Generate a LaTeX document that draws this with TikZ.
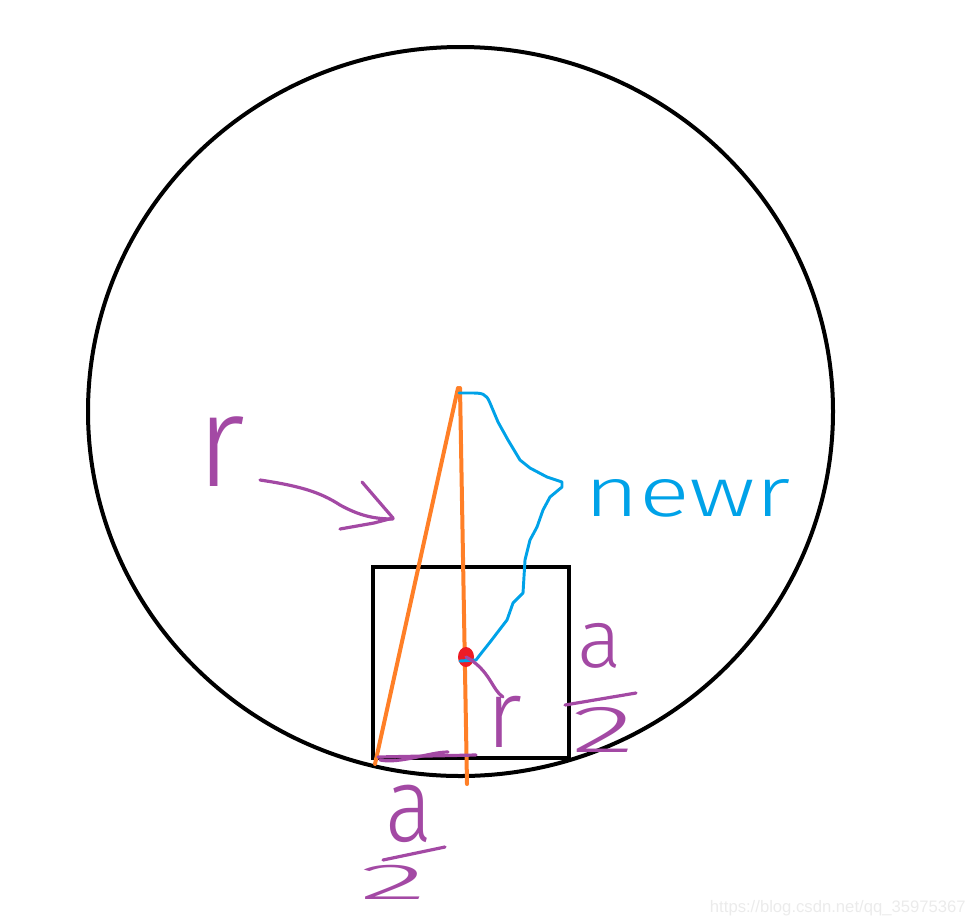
\documentclass[tikz,border=0pt]{standalone}
\usepackage{fontspec}
\newfontfamily\wmfont{Liberation Sans}
\newfontfamily\hand{Fira Sans Light}
\definecolor{penpurple}{HTML}{A349A4}
\definecolor{penorange}{HTML}{FF7F27}
\definecolor{penblue}{HTML}{00A2E8}
\definecolor{penred}{HTML}{ED1C24}
\tikzset{
  shape line/.style={draw=black,line width=3pt},
  orange pen/.style={draw=penorange,line width=3pt,line cap=round},
  blue pen/.style={draw=penblue,line width=2.2pt,line cap=round,line join=round},
  purple pen/.style={draw=penpurple,line width=2.4pt,line cap=round,line join=round},
  purple text/.style={text=penpurple,inner sep=0pt,text depth=0pt},
}
\begin{document}
\begin{tikzpicture}[x=0.75pt,y=-0.75pt]
\useasboundingbox (0,0) rectangle (974,922);
% big circle
\draw[shape line] (460.5,411.5) ellipse [x radius=372.5, y radius=364.5];
% square
\draw[shape line,line width=3.3pt] (373,567) rectangle (569,758);
% orange lines
\coordinate (apex) at (458,388);
\coordinate (corner) at (375,764);
\coordinate (foot) at (467,784);
\draw[orange pen] (apex) -- (corner);
\draw[orange pen] (460,388) -- (foot);
% red centre dot
\coordinate (centre) at (466,657);
\fill[penred] (centre) ellipse [x radius=8, y radius=10];
% blue "new r" curve
\draw[blue pen] (460,661) -- (476,660) .. controls (482,652) and (488,645) .. (497,633)
  -- (507,620) -- (513,603) -- (523,593) -- (525,560) -- (530,540) -- (537,527)
  -- (543,510) -- (550,497) -- (562,487) -- (562,482) -- (547,477) -- (530,468)
  -- (520,460) -- (508,440) -- (498,422) -- (490,403) .. controls (486,393) and (482,393) .. (470,393) -- (459,393);
\node[text=penblue,inner sep=0pt,text depth=0pt,font=\hand\fontsize{52}{52}\selectfont,anchor=base west,xscale=1.36] (newr) at (584,516) {newr};
% left "r" and arrow
\node[purple text,font=\hand\fontsize{98}{98}\selectfont,anchor=base] (rlabel) at (221,486) {r};
\coordinate (arrtail) at (260,480);
\coordinate (arrtip) at (393,519);
\draw[purple pen] (arrtail) .. controls (300,486) and (320,492) .. (340,505)
  .. controls (360,516) and (375,519) .. (arrtip);
\draw[purple pen] (362,482) -- (393,518) -- (374,523) -- (340,529);
% inner r
\draw[purple pen] (centre) .. controls (490,670) and (492,690) .. (503,697);
\node[purple text,font=\hand\fontsize{72}{72}\selectfont,anchor=base] (rinner) at (504,747) {r};
% half side marker at bottom
\coordinate (hl) at (378,757);
\coordinate (hr) at (476,755);
\draw[purple pen] (hl) -- (hr);
\draw[purple pen] (380,760) .. controls (400,764) and (430,752) .. (448,752);
% right a/2
\node[purple text,font=\hand\fontsize{62}{62}\selectfont,anchor=base] (aright) at (600,667) {a};
\coordinate (barr1) at (565,705);
\coordinate (barr2) at (636,693);
\draw[purple pen] (barr1) -- (barr2);
\node[purple text,font=\hand\fontsize{50}{50}\selectfont,anchor=base,xscale=2.0] (tworight) at (603,752) {2};
% bottom a/2
\node[purple text,font=\hand\fontsize{66}{66}\selectfont,anchor=base,yscale=1.2] (abottom) at (409,841) {a};
\coordinate (barb1) at (383,860);
\coordinate (barb2) at (445,847);
\draw[purple pen] (barb1) -- (barb2);
\node[purple text,font=\hand\fontsize{38}{38}\selectfont,anchor=base,xscale=2.8] (twobottom) at (393,899) {2};
% watermark
\node[text=black!8,inner sep=0pt,font=\wmfont\fontsize{12.5}{12.5}\selectfont,anchor=base east] (wm) at (966,912) {https://blog.csdn.net/qq\_35975367};
\end{tikzpicture}
\end{document}
